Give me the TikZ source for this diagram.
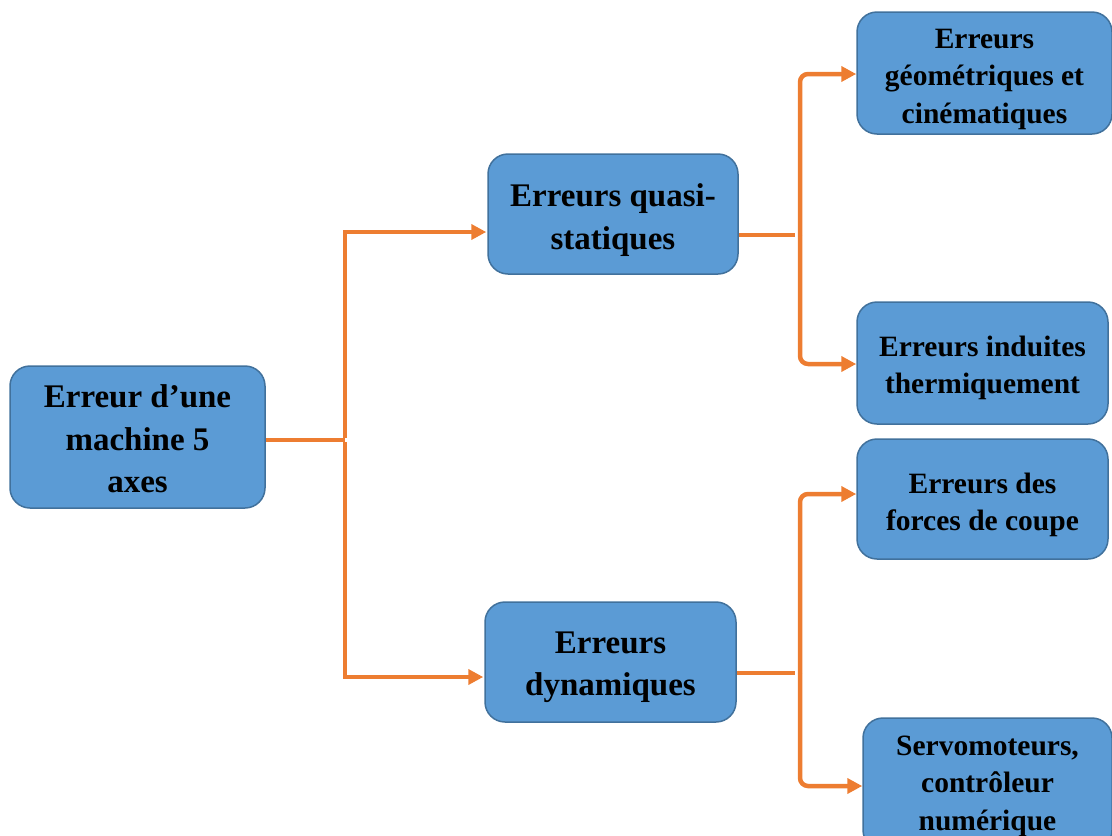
\documentclass[tikz,border=0pt]{standalone}
\usepackage{fontspec}
\setmainfont{Liberation Serif}
\usetikzlibrary{arrows.meta}
\definecolor{boxfill}{HTML}{5B9BD5}
\definecolor{boxline}{HTML}{41719C}
\definecolor{conn}{HTML}{ED7D31}
\tikzset{
  box/.style={draw=boxline, line width=1.5pt, fill=boxfill, rounded corners=20pt, inner sep=0pt},
  bigtext/.style={align=center, inner sep=0pt, font=\fontsize{33}{42.5}\selectfont\bfseries},
  smalltext/.style={align=center, inner sep=0pt, font=\fontsize{29.5}{37.5}\selectfont\bfseries},
  line/.style={draw=conn, line width=4.5pt},
  arr/.style={draw=conn, line width=4.5pt, -{Triangle[length=15pt,width=15pt]}},
}
\begin{document}
\begin{tikzpicture}[x=1pt,y=-1pt]
\useasboundingbox (0,0) rectangle (1112,836);
\node[box,minimum width=255pt,minimum height=142pt] (main) at (137.5,437) {};
\node[bigtext] (maint) at ([yshift=-2pt]main.center) {Erreur d’une\\machine 5\\axes};
\node[box,minimum width=250pt,minimum height=120pt] (qs) at (613,214) {};
\node[bigtext] (qst) at ([yshift=-6pt]qs.center) {Erreurs quasi-\\statiques};
\node[box,minimum width=251pt,minimum height=120pt] (dyn) at (610.5,662) {};
\node[bigtext] (dynt) at ([yshift=-5pt]dyn.center) {Erreurs\\dynamiques};
\node[box,minimum width=255pt,minimum height=122pt] (r1) at (984.5,73) {};
\node[smalltext] (r1t) at ([yshift=-6pt]r1.center) {Erreurs\\géométriques et\\cinématiques};
\node[box,minimum width=251pt,minimum height=122pt] (r2) at (982.5,363) {};
\node[smalltext] (r2t) at ([yshift=-5pt]r2.center) {Erreurs induites\\thermiquement};
\node[box,minimum width=251pt,minimum height=120pt] (r3) at (982.5,499) {};
\node[smalltext] (r3t) at ([yshift=-6pt]r3.center) {Erreurs des\\forces de coupe};
\node[box,minimum width=249pt,minimum height=132pt] (r4) at (987.5,784) {};
\node[smalltext] (r4t) at ([yshift=-2pt]r4.center) {Servomoteurs,\\contrôleur\\numérique};

\coordinate (ja) at (345,440);
\draw[line] (main.east|-ja) -- (ja);
\draw[arr] ([yshift=2pt]ja) |- ([yshift=-18pt,xshift=-1pt]qs.west);
\draw[arr] ([yshift=-2pt]ja) |- ([yshift=-15pt,xshift=-1pt]dyn.west);

\coordinate (jb) at (800,235);
\draw[line] ([yshift=-21pt]qs.east) -- ([xshift=-5pt]jb);
\draw[arr,rounded corners=8pt] (jb) |- ([yshift=-1pt]r1.west);
\draw[arr,rounded corners=8pt] (jb) |- ([yshift=-1pt]r2.west);

\coordinate (jc) at (800,673);
\draw[line] ([yshift=-11pt]dyn.east) -- ([xshift=-5pt]jc);
\draw[arr,rounded corners=8pt] (jc) |- ([yshift=5pt]r3.west);
\draw[arr,rounded corners=8pt] (jc) |- ([yshift=-2pt]r4.west);
\end{tikzpicture}
\end{document}
